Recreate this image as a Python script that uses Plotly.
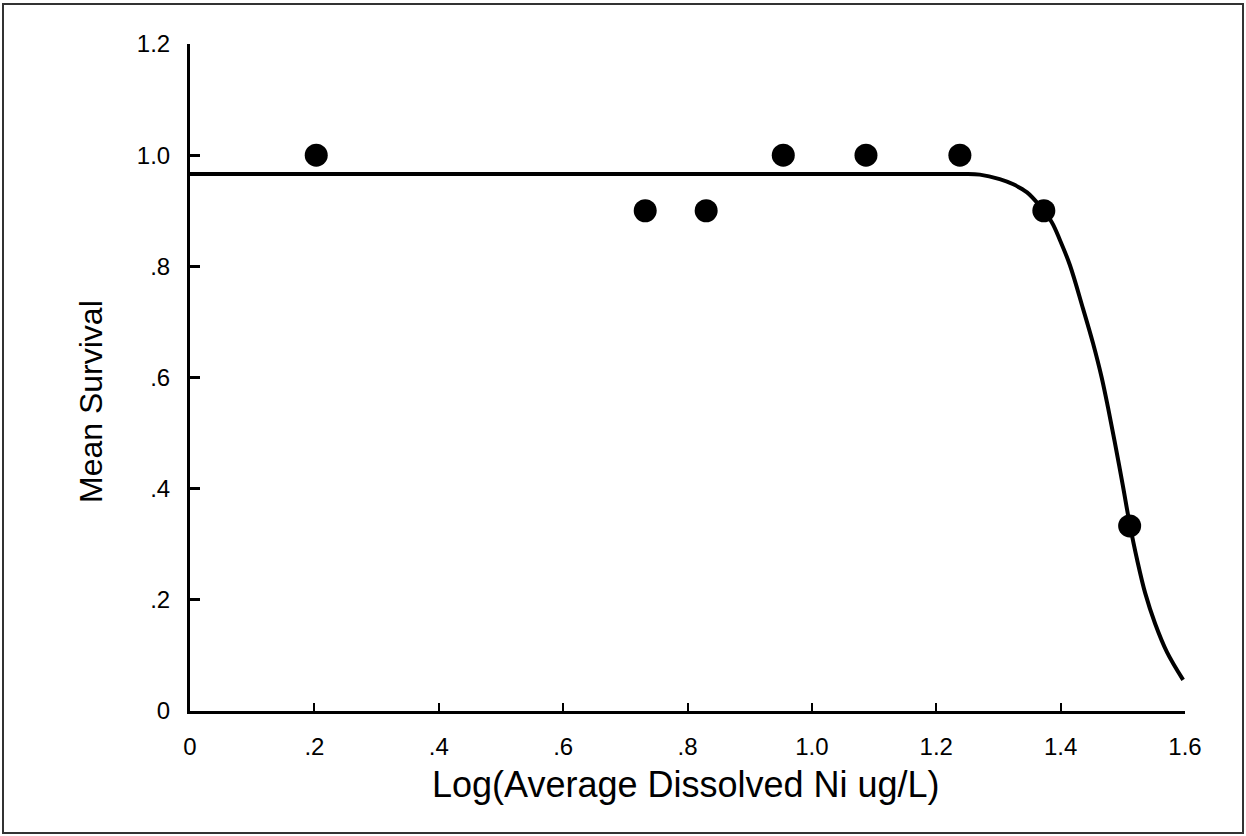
import plotly.graph_objects as go

# Observed data
obs_x = [0.203, 0.732, 0.830, 0.954, 1.087, 1.238, 1.373, 1.511]
obs_y = [1.0, 0.9, 0.9, 1.0, 1.0, 1.0, 0.9, 0.333]

# Fitted curve
fit_x = [0.0, 0.4, 0.8, 1.0, 1.238, 1.270, 1.302, 1.323, 1.346, 1.367, 1.386, 1.399,
         1.415, 1.436, 1.452, 1.466, 1.476, 1.487, 1.500, 1.511, 1.523, 1.536, 1.552,
         1.571, 1.597]
fit_y = [0.966, 0.966, 0.966, 0.966, 0.966, 0.965, 0.957, 0.948, 0.933, 0.908, 0.879, 0.847,
         0.802, 0.724, 0.662, 0.600, 0.547, 0.484, 0.406, 0.337, 0.272, 0.212, 0.157,
         0.106, 0.056]

x_ticks = [0, 0.2, 0.4, 0.6, 0.8, 1.0, 1.2, 1.4, 1.6]
x_labels = ["0", ".2", ".4", ".6", ".8", "1.0", "1.2", "1.4", "1.6"]
y_ticks = [0, 0.2, 0.4, 0.6, 0.8, 1.0, 1.2]
y_labels = ["0", ".2", ".4", ".6", ".8", "1.0", "1.2"]

x_title = "Log(Average Dissolved Ni ug/L)"
y_title = "Mean Survival"

FONT = "Liberation Sans, Arial, sans-serif"

fig = go.Figure()
fig.add_trace(go.Scatter(x=fit_x, y=fit_y, mode="lines",
                         line=dict(color="black", width=4, shape="spline", smoothing=1.0),
                         showlegend=False, hoverinfo="skip"))
fig.add_trace(go.Scatter(x=obs_x, y=obs_y, mode="markers",
                         marker=dict(color="black", size=23),
                         showlegend=False))

W, H = 1246, 836
L, R, T, B = 190, 61, 44, 125
pw, ph = W - L - R, H - T - B

def px_to_paper_x(px):
    return (px - L) / pw

def px_to_paper_y(py):
    return (H - B - py) / ph

fig.update_layout(
    width=W, height=H,
    margin=dict(l=L, r=R, t=T, b=B, pad=0),
    paper_bgcolor="white", plot_bgcolor="white",
    font=dict(family=FONT, color="black", size=24),
    xaxis=dict(range=[0, 1.6], tickvals=x_ticks, ticktext=x_labels,
               ticks="inside", ticklen=8, tickwidth=2, tickcolor="black",
               showline=True, linecolor="black", linewidth=3,
               showgrid=False, zeroline=False, tickfont=dict(size=24),
               ticklabelstandoff=12),
    yaxis=dict(range=[0, 1.2], tickvals=y_ticks, ticktext=y_labels,
               ticks="inside", ticklen=10, tickwidth=3, tickcolor="black",
               showline=True, linecolor="black", linewidth=3,
               showgrid=False, zeroline=False, tickfont=dict(size=24),
               ticklabelstandoff=12),
    shapes=[dict(type="rect", xref="paper", yref="paper",
                 x0=px_to_paper_x(3), x1=px_to_paper_x(1243),
                 y0=px_to_paper_y(833), y1=px_to_paper_y(4),
                 line=dict(color="#333333", width=2), layer="below")],
    annotations=[
        dict(text=x_title, xref="paper", yref="paper",
             x=px_to_paper_x(686), y=px_to_paper_y(784), xanchor="center", yanchor="middle",
             showarrow=False, font=dict(size=36, family=FONT)),
        dict(text=y_title, xref="paper", yref="paper", textangle=-90,
             x=px_to_paper_x(91), y=px_to_paper_y(402), xanchor="center", yanchor="middle",
             showarrow=False, font=dict(size=32, family=FONT)),
    ],
)
fig.write_html("out.html", config={"displayModeBar": False},
               post_script="document.body.style.margin='0';")
